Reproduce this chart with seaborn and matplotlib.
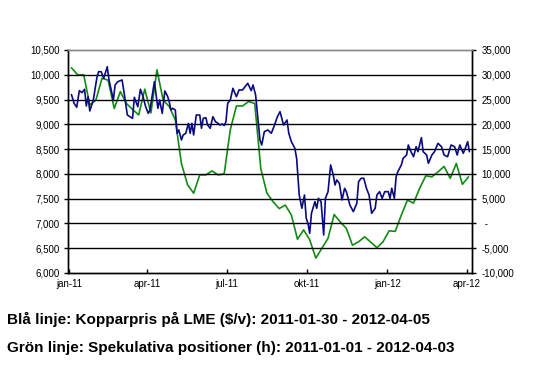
import pandas as pd
import matplotlib.pyplot as plt
import matplotlib.ticker as mticker
import seaborn as sns

# copper price on LME ($/t), left axis
blue_dates = [
    '2011-01-04', '2011-01-07', '2011-01-10', '2011-01-13', '2011-01-16', '2011-01-19', '2011-01-21',
    '2011-01-23', '2011-01-25', '2011-01-29', '2011-02-02', '2011-02-04', '2011-02-07', '2011-02-10',
    '2011-02-14', '2011-02-16', '2011-02-21', '2011-02-23', '2011-02-26', '2011-03-03', '2011-03-06',
    '2011-03-09', '2011-03-15', '2011-03-17', '2011-03-21', '2011-03-24', '2011-03-27', '2011-03-30',
    '2011-04-02', '2011-04-04', '2011-04-06', '2011-04-09', '2011-04-11', '2011-04-13', '2011-04-15',
    '2011-04-18', '2011-04-21', '2011-04-24', '2011-04-26', '2011-04-28', '2011-04-30', '2011-05-03',
    '2011-05-05', '2011-05-07', '2011-05-10', '2011-05-12', '2011-05-15', '2011-05-18', '2011-05-20',
    '2011-05-22', '2011-05-24', '2011-05-27', '2011-05-31', '2011-06-02', '2011-06-04', '2011-06-07',
    '2011-06-09', '2011-06-12', '2011-06-15', '2011-06-18', '2011-06-21', '2011-06-23', '2011-06-26',
    '2011-06-28', '2011-06-30', '2011-07-02', '2011-07-05', '2011-07-08', '2011-07-12', '2011-07-15',
    '2011-07-19', '2011-07-25', '2011-07-29', '2011-07-31', '2011-08-03', '2011-08-05', '2011-08-08',
    '2011-08-10', '2011-08-13', '2011-08-17', '2011-08-21', '2011-08-24', '2011-08-28', '2011-08-31',
    '2011-09-04', '2011-09-08', '2011-09-10', '2011-09-13', '2011-09-17', '2011-09-19', '2011-09-22',
    '2011-09-25', '2011-09-28', '2011-09-30', '2011-10-02', '2011-10-04', '2011-10-06', '2011-10-10',
    '2011-10-12', '2011-10-14', '2011-10-17', '2011-10-20', '2011-10-22', '2011-10-25', '2011-10-28',
    '2011-10-31', '2011-11-02', '2011-11-04', '2011-11-07', '2011-11-10', '2011-11-13', '2011-11-15',
    '2011-11-19', '2011-11-23', '2011-11-27', '2011-11-29', '2011-12-02', '2011-12-05', '2011-12-08',
    '2011-12-11', '2011-12-14', '2011-12-18', '2011-12-20', '2011-12-23', '2011-12-26', '2011-12-29',
    '2012-01-02', '2012-01-04', '2012-01-06', '2012-01-09', '2012-01-11', '2012-01-13', '2012-01-17',
    '2012-01-19', '2012-01-23', '2012-01-25', '2012-01-28', '2012-01-31', '2012-02-03', '2012-02-05',
    '2012-02-09', '2012-02-11', '2012-02-15', '2012-02-17', '2012-02-21', '2012-02-24', '2012-02-28',
    '2012-03-03', '2012-03-06', '2012-03-10', '2012-03-14', '2012-03-18', '2012-03-21', '2012-03-24',
    '2012-03-28', '2012-03-31', '2012-04-02', '2012-04-04',
]
blue_values = [
    9600, 9424, 9344, 9680, 9640, 9707, 9370,
    9558, 9269, 9490, 9929, 10062, 10062, 9929,
    10163, 9895, 9490, 9794, 9860, 9895, 9558,
    9188, 9120, 9545, 9356, 9707, 9558, 9356,
    9222, 9289, 9524, 9860, 9592, 9323, 9490,
    9222, 9673, 9572, 9457, 9289, 9323, 9289,
    8819, 8886, 8684, 8785, 8819, 9020, 8819,
    9020, 8785, 9188, 9188, 8920, 9120, 9134,
    8987, 8920, 9154, 9053, 9020, 8987, 9007,
    8975, 9053, 9424, 9490, 9727, 9558, 9693,
    9693, 9828, 9680, 9794, 9592, 9222, 8684,
    8583, 8852, 8886, 8819, 8953, 9154, 9255,
    8987, 9087, 8819, 8650, 8516, 8313, 7574,
    7306, 7574, 7104, 7003, 6801, 7205, 7440,
    7306, 7507, 7440, 6767, 7507, 7641, 8180,
    7978, 7776, 7877, 7810, 7473, 7709, 7641,
    7372, 7238, 7406, 7843, 7911, 7911, 7709,
    7574, 7205, 7306, 7574, 7641, 7507, 7641,
    7641, 7507, 7709, 7507, 7944, 8045, 8180,
    8313, 8381, 8583, 8448, 8347, 8549, 8448,
    8731, 8448, 8381, 8213, 8381, 8448, 8617,
    8549, 8381, 8347, 8583, 8549, 8381, 8583,
    8415, 8549, 8650, 8448,
]

# speculative positions, weekly, right axis
green_values = [
    31400, 30000, 30000, 23900, 24900, 29300, 28900, 23200, 26600, 24200, 23000,
    21900, 27100, 22300, 31000, 24900, 23600, 20900, 12100, 7800, 6100, 9800,
    9800, 10600, 9800, 10000, 18900, 23700, 23700, 24600, 24200, 11000, 6100,
    4400, 3000, 3700, 1700, -3200, -1300, -3300, -7000, -5000, -3000, 1800,
    300, -1000, -4400, -3700, -2700, -3800, -4900, -3700, -1500, -1600, 1700,
    4700, 4100, 7100, 9600, 9400, 10400, 11500, 9100, 12100, 7900, 9400,
]
green_dates = pd.date_range('2011-01-04', periods=len(green_values), freq='7D')

left_ticks = [6000, 6500, 7000, 7500, 8000, 8500, 9000, 9500, 10000, 10500]
right_ticks = [-10000, -5000, 0, 5000, 10000, 15000, 20000, 25000, 30000, 35000]
month_ticks = ['2011-01-01', '2011-04-01', '2011-07-01', '2011-10-01', '2012-01-01', '2012-04-01']
month_labels = ['jan-11', 'apr-11', 'jul-11', 'okt-11', 'jan-12', 'apr-12']

blue_df = pd.DataFrame({'date': pd.to_datetime(blue_dates), 'price': blue_values})
green_df = pd.DataFrame({'date': green_dates, 'pos': green_values})

sns.set_style('white')
plt.rcParams['font.family'] = ['Liberation Sans', 'DejaVu Sans']

fig = plt.figure(figsize=(5.37, 3.81), dpi=100)
ax = fig.add_axes([0.1266, 0.2835, 0.7524, 0.5853])
ax2 = ax.twinx()

sns.lineplot(data=blue_df, x='date', y='price', ax=ax, color='#0a0a80', linewidth=1.2, zorder=3)
sns.lineplot(data=green_df, x='date', y='pos', ax=ax2, color='#138a13', linewidth=1.2, zorder=2)

# blue line above green
ax.set_zorder(ax2.get_zorder() + 1)
ax.patch.set_visible(False)

ax.set_ylim(6000, 10500)
ax2.set_ylim(-10000, 35000)
ax.set_xlim(pd.Timestamp('2010-12-31'), pd.Timestamp('2012-04-07'))

ax.set_yticks(left_ticks)
ax.yaxis.set_major_formatter(mticker.FuncFormatter(lambda v, p: f'{int(v):,}'))
ax2.set_yticks(right_ticks)
ax2.yaxis.set_major_formatter(mticker.FuncFormatter(lambda v, p: ' -' if v == 0 else f'{int(v):,}'))

ax.set_xticks(pd.to_datetime(month_ticks))
ax.set_xticklabels(month_labels)

for y in left_ticks[1:-1]:
    ax.axhline(y, color='black', linewidth=1.0, zorder=1)

ax.set_xlabel('')
ax.set_ylabel('')
ax2.set_ylabel('')

for a in (ax, ax2):
    for s in a.spines.values():
        s.set_color('black')
        s.set_linewidth(1.0)
    a.spines['top'].set_color('#888888')
    a.tick_params(axis='both', labelsize=7, length=3, width=1, colors='black', pad=3)

ax.tick_params(axis='y', direction='out', left=True)
ax.tick_params(axis='x', direction='in', bottom=True, length=3, pad=4)
ax2.tick_params(axis='y', direction='out', right=True, pad=4)

fig.text(0.013, 0.162, 'Blå linje: Kopparpris på LME ($/v): 2011-01-30 - 2012-04-05',
         fontsize=11, fontweight='bold', color='black', va='center')
fig.text(0.013, 0.087, 'Grön linje: Spekulativa positioner (h): 2011-01-01 - 2012-04-03',
         fontsize=11, fontweight='bold', color='black', va='center')

fig.savefig('out.png', dpi=100)
